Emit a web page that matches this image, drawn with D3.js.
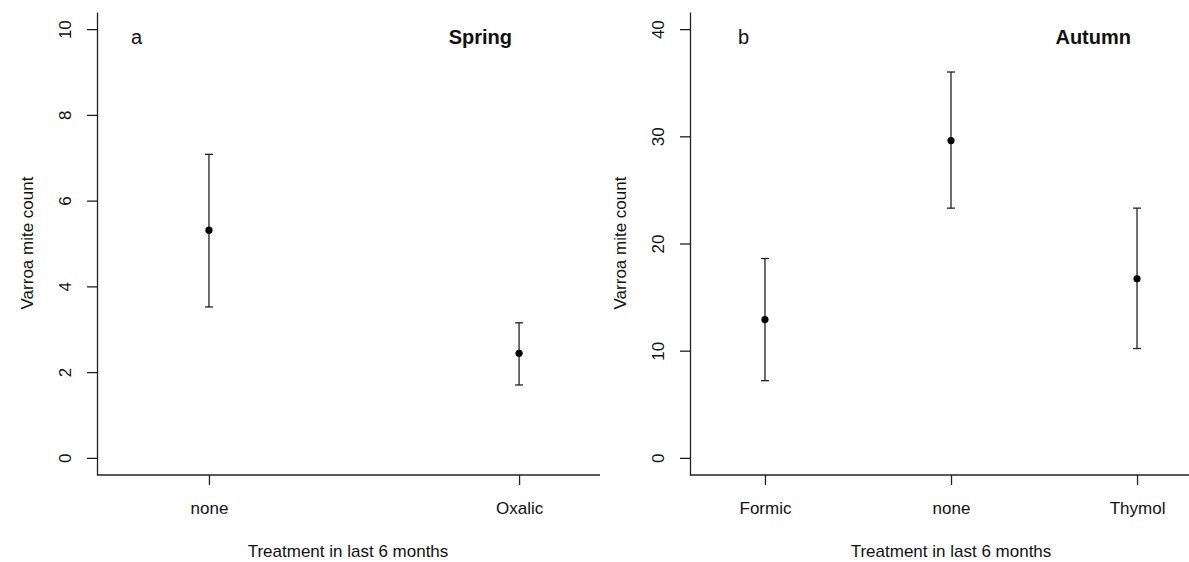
<html>
<head>
<meta charset="UTF-8">
<title>Varroa mite count by treatment</title>
<script src="https://d3js.org/d3.v7.min.js"></script>
<style>
  body { margin: 0; background: #fff; }
  svg { background: #fff; display: block; }
  text { font-family: "Liberation Sans", Arial, sans-serif; fill: #111; }
  .axis path, .axis line { stroke: #222; stroke-width: 1.3; }
  .axis text { font-size: 17px; }
  .bar { stroke: #222; stroke-width: 1.3; }
  .pt { fill: #000; }
  .lab { font-size: 17px; }
  .panel { font-size: 20px; }
  .season { font-size: 20px; font-weight: bold; }
</style>
</head>
<body>
<svg width="1189" height="562"></svg>
<script>
// Spring panel (a)
var springCats = ["none", "Oxalic"];
var springMean = [5.31, 2.44];
var springLow  = [3.52, 1.70];
var springHigh = [7.08, 3.15];
var springTicks = [0, 2, 4, 6, 8, 10];

// Autumn panel (b)
var autumnCats = ["Formic", "none", "Thymol"];
var autumnMean = [12.9, 29.6, 16.7];
var autumnLow  = [7.2, 23.3, 10.2];
var autumnHigh = [18.6, 36.0, 23.3];
var autumnTicks = [0, 10, 20, 30, 40];

var svg = d3.select("svg");

function drawPanel(o) {
  var x = d3.scaleLinear().domain(o.xdom).range(o.xrange);
  var y = d3.scaleLinear().domain(o.ydom).range([475, 12]);

  // y axis
  var gy = svg.append("g")
      .attr("class", "axis")
      .attr("transform", "translate(" + o.xrange[0] + ",0)")
      .call(d3.axisLeft(y).tickValues(o.yticks).tickSize(10).tickSizeOuter(0));
  gy.selectAll(".tick text")
      .attr("x", 0).attr("dy", 0)
      .attr("text-anchor", "middle")
      .attr("transform", "translate(-26,0) rotate(-90)");

  // x axis
  var idx = o.cats.map(function (d, i) { return i + 1; });
  var gx = svg.append("g")
      .attr("class", "axis")
      .attr("transform", "translate(0,475)")
      .call(d3.axisBottom(x).tickValues(idx).tickSize(10).tickSizeOuter(0)
        .tickFormat(function (d) { return o.cats[d - 1]; }));
  gx.selectAll(".tick text").attr("y", 39).attr("dy", 0);
  gx.select(".domain").attr("d", "M" + o.xrange[0] + ",0H" + o.xend);

  var rows = o.cats.map(function (c, i) {
    return { i: i + 1, mean: o.mean[i], lo: o.lo[i], hi: o.hi[i] };
  });

  // error bars
  svg.selectAll(null).data(rows).enter().append("line")
      .attr("class", "bar")
      .attr("x1", d => x(d.i)).attr("x2", d => x(d.i))
      .attr("y1", d => y(d.lo)).attr("y2", d => y(d.hi));
  svg.selectAll(null).data(rows).enter().append("line")
      .attr("class", "bar")
      .attr("x1", d => x(d.i) - 4).attr("x2", d => x(d.i) + 4)
      .attr("y1", d => y(d.hi)).attr("y2", d => y(d.hi));
  svg.selectAll(null).data(rows).enter().append("line")
      .attr("class", "bar")
      .attr("x1", d => x(d.i) - 4).attr("x2", d => x(d.i) + 4)
      .attr("y1", d => y(d.lo)).attr("y2", d => y(d.lo));
  svg.selectAll(null).data(rows).enter().append("circle")
      .attr("class", "pt")
      .attr("cx", d => x(d.i)).attr("cy", d => y(d.mean))
      .attr("r", 3.6);

  // axis titles
  svg.append("text")
      .attr("class", "lab")
      .attr("text-anchor", "middle")
      .attr("transform", "translate(" + (o.xrange[0] - 64) + ",243) rotate(-90)")
      .text("Varroa mite count");
  svg.append("text")
      .attr("class", "lab")
      .attr("text-anchor", "middle")
      .attr("x", o.titleX).attr("y", 557)
      .text("Treatment in last 6 months");

  // panel letter and season
  svg.append("text").attr("class", "panel")
      .attr("x", o.letterX).attr("y", 44).text(o.letter);
  svg.append("text").attr("class", "season")
      .attr("text-anchor", "end")
      .attr("x", o.seasonX).attr("y", 44).text(o.season);
}

drawPanel({
  cats: springCats, mean: springMean, lo: springLow, hi: springHigh,
  yticks: springTicks, ydom: [-0.4, 10.4],
  xdom: [0.639, 2.261], xrange: [97, 600], xend: 600,
  titleX: 348, letter: "a", letterX: 131, season: "Spring", seasonX: 512
});

drawPanel({
  cats: autumnCats, mean: autumnMean, lo: autumnLow, hi: autumnHigh,
  yticks: autumnTicks, ydom: [-1.6, 41.6],
  xdom: [0.597, 3.403], xrange: [690, 1212], xend: 1189,
  titleX: 951, letter: "b", letterX: 738, season: "Autumn", seasonX: 1131
});
</script>
</body>
</html>
